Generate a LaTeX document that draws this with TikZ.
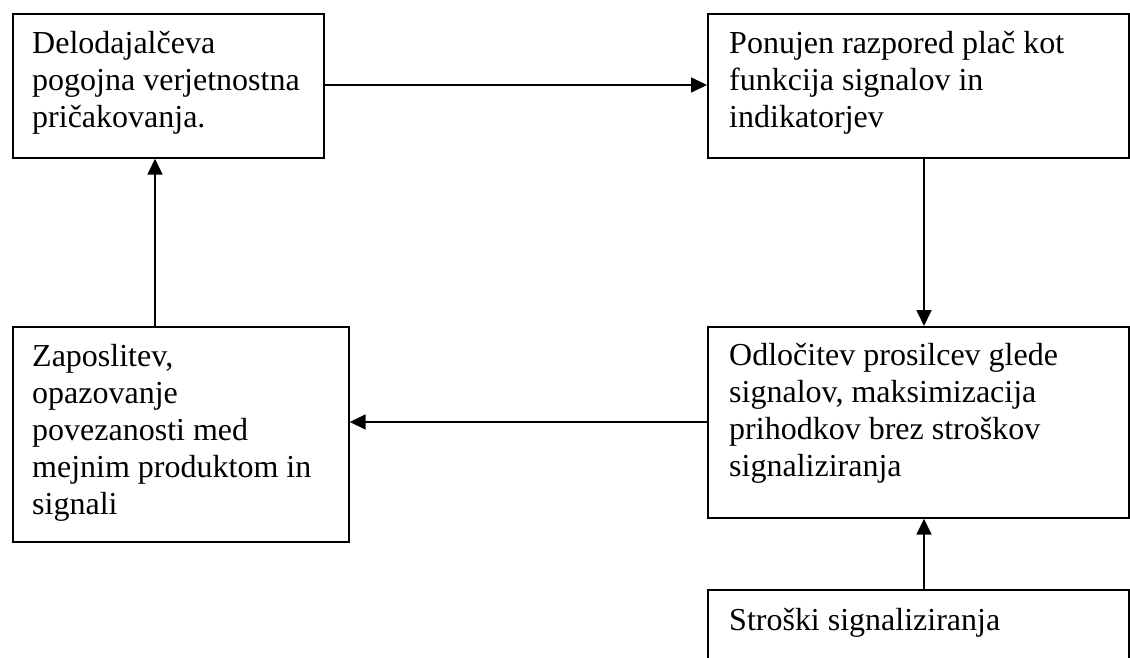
\documentclass[tikz,border=0pt]{standalone}
\usepackage{fontspec}
\setmainfont{Liberation Serif}
\usetikzlibrary{arrows.meta}
\newcommand{\boxtext}[1]{\parbox[t]{400pt}{\raggedright\fontsize{32}{37}\selectfont #1}}
\begin{document}
\begin{tikzpicture}[x=1pt,y=-1pt,
  box/.style={draw,line width=1.7pt,inner sep=0pt,anchor=north west},
  txt/.style={anchor=base west,inner sep=0pt},
  arr/.style={line width=1.7pt,-{Triangle[length=16pt,width=15pt]}}]
\useasboundingbox (0,0) rectangle (1130,657);
\clip (0,0) rectangle (1130,657);
\node[box,minimum width=311pt,minimum height=144pt] (b1) at (12,13) {};
\node[box,minimum width=421pt,minimum height=144pt] (b2) at (707,13) {};
\node[box,minimum width=336pt,minimum height=215pt] (b3) at (12,326) {};
\node[box,minimum width=421pt,minimum height=191pt] (b4) at (707,326) {};
\node[box,minimum width=421pt,minimum height=120pt] (b5) at (707,589) {};
\node[txt] (t1) at (32,53) {\boxtext{Delodajalčeva\\pogojna verjetnostna\\pričakovanja.}};
\node[txt] (t2) at (729,53) {\boxtext{Ponujen razpored plač kot\\funkcija signalov in\\indikatorjev}};
\node[txt] (t3) at (32,366) {\boxtext{Zaposlitev,\\opazovanje\\povezanosti med\\mejnim produktom in\\signali}};
\node[txt] (t4) at (729,365) {\boxtext{Odločitev prosilcev glede\\signalov, maksimizacija\\prihodkov brez stroškov\\signaliziranja}};
\node[txt] (t5) at (729,630) {\boxtext{Stroški signaliziranja}};
\draw[arr] (b1.east |- 0,85) -- (b2.west |- 0,85);
\draw[arr] (924,0 |- b2.south) -- (924,0 |- b4.north);
\draw[arr] (b4.west |- 0,422) -- (b3.east |- 0,422);
\draw[arr] (155,0 |- b3.north) -- (155,0 |- b1.south);
\draw[arr] (924,0 |- b5.north) -- (924,0 |- b4.south);
\end{tikzpicture}
\end{document}
